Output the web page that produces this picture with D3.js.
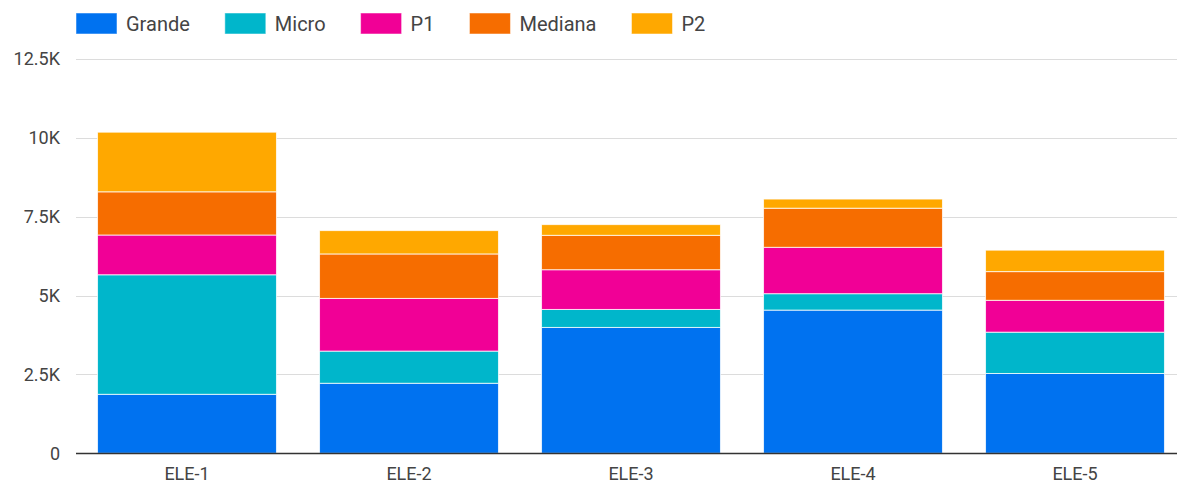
<!DOCTYPE html>
<html>
<head>
<meta charset="utf-8">
<script src="https://cdn.jsdelivr.net/npm/d3@7"></script>
<style>
  html, body { margin: 0; padding: 0; background: #fff; }
  svg { display: block; font-family: Roboto, "Noto Sans", sans-serif; }
</style>
</head>
<body>
<svg id="chart" width="1177" height="483"></svg>
<script>
// Categories and stacked series (values in units)
const categories = ["ELE-1", "ELE-2", "ELE-3", "ELE-4", "ELE-5"];
const seriesNames = ["Grande", "Micro", "P1", "Mediana", "P2"];
const grande  = [1870, 2220, 3990, 4540, 2530];
const micro   = [3790, 1020,  570,  520, 1310];
const p1      = [1260, 1670, 1260, 1470, 1010];
const mediana = [1370, 1410, 1090, 1240,  910];
const p2      = [1890,  740,  340,  290,  680];
const yTicks = [0, 2500, 5000, 7500, 10000, 12500];
const yTickLabels = ["0", "2.5K", "5K", "7.5K", "10K", "12.5K"];
const colors = ["#0072f0", "#00b6cb", "#f10096", "#f66d00", "#ffa800"];

const seriesValues = [grande, micro, p1, mediana, p2];
const rows = categories.map((c, i) => {
  const r = { category: c };
  seriesNames.forEach((s, k) => { r[s] = seriesValues[k][i]; });
  return r;
});

const svg = d3.select("#chart");
const W = 1177, H = 483;
const margin = { top: 59, right: 0, bottom: 30, left: 76 };

const x = d3.scaleBand()
  .domain(categories)
  .range([margin.left, 1186])
  .paddingInner(0.194)
  .paddingOuter(0.097);

const y = d3.scaleLinear()
  .domain([0, 12500])
  .range([453.3, 59]);

// Horizontal gridlines
svg.append("g")
  .selectAll("line")
  .data(yTicks.slice(1))
  .join("line")
  .attr("x1", margin.left)
  .attr("x2", W)
  .attr("y1", d => Math.round(y(d)) + 0.5)
  .attr("y2", d => Math.round(y(d)) + 0.5)
  .attr("stroke", "#dcdcdc")
  .attr("stroke-width", 1);

// Y tick labels
svg.append("g")
  .selectAll("text")
  .data(yTicks)
  .join("text")
  .attr("x", 60)
  .attr("y", d => y(d))
  .attr("dy", "0.35em")
  .attr("text-anchor", "end")
  .attr("font-size", 18)
  .attr("fill", "#444")
  .text((d, i) => yTickLabels[i]);

// Stacked bars
const stack = d3.stack().keys(seriesNames);
const layers = stack(rows);

svg.append("g")
  .selectAll("g")
  .data(layers)
  .join("g")
  .attr("fill", (d, i) => colors[i])
  .selectAll("rect")
  .data(d => d)
  .join("rect")
  .attr("x", d => x(d.data.category))
  .attr("width", x.bandwidth())
  .attr("y", d => y(d[1]))
  .attr("height", d => y(d[0]) - y(d[1]))
  .attr("stroke", "#fff")
  .attr("stroke-opacity", 0.75)
  .attr("stroke-width", 1);

// Baseline
svg.append("line")
  .attr("x1", margin.left)
  .attr("x2", W)
  .attr("y1", 453.5)
  .attr("y2", 453.5)
  .attr("stroke", "#333")
  .attr("stroke-width", 1.5);

// X labels
svg.append("g")
  .selectAll("text")
  .data(categories)
  .join("text")
  .attr("x", d => x(d) + x.bandwidth() / 2)
  .attr("y", 480)
  .attr("text-anchor", "middle")
  .attr("font-size", 18)
  .attr("fill", "#444")
  .text(d => d);

// Legend
const legend = svg.append("g");
let lx = 76;
seriesNames.forEach((name, i) => {
  const g = legend.append("g").attr("transform", `translate(${lx},13)`);
  g.append("rect")
    .attr("width", 41)
    .attr("height", 21)
    .attr("fill", colors[i])
    .attr("stroke", "#fff")
    .attr("stroke-opacity", 0.5);
  const t = g.append("text")
    .attr("x", 50)
    .attr("y", 10.5)
    .attr("dy", "0.35em")
    .attr("font-size", 20)
    .attr("fill", "#444")
    .text(name);
  lx += 50 + t.node().getComputedTextLength() + 35;
});
</script>
</body>
</html>
